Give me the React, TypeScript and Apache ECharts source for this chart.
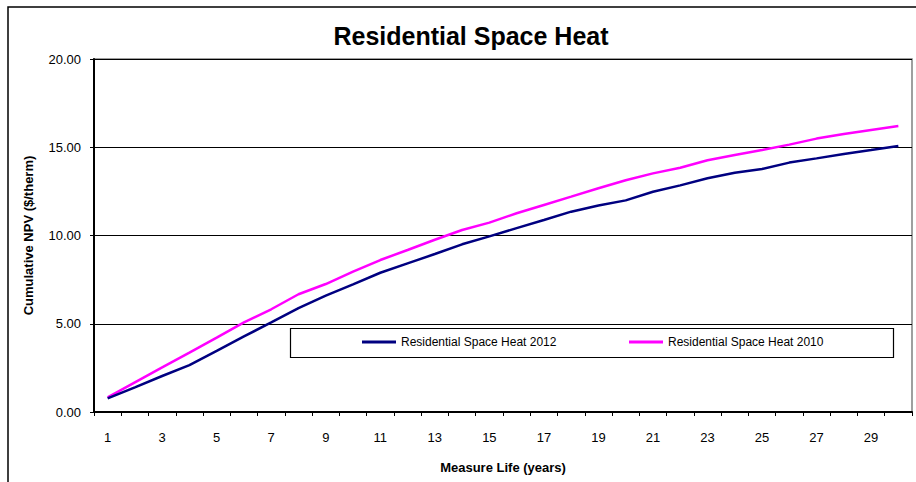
import React, { useEffect, useRef } from "react";
import * as echarts from "echarts";

const years: string[] = [
  "1","2","3","4","5","6","7","8","9","10","11","12","13","14","15",
  "16","17","18","19","20","21","22","23","24","25","26","27","28","29","30",
];
const heat2012: number[] = [
  0.77, 1.4, 2.04, 2.66, 3.46, 4.28, 5.08, 5.89, 6.59, 7.23, 7.89, 8.42, 8.95, 9.5, 9.95,
  10.42, 10.88, 11.35, 11.7, 11.99, 12.48, 12.84, 13.24, 13.56, 13.77, 14.13, 14.37, 14.62, 14.84, 15.07,
];
const heat2010: number[] = [
  0.83, 1.68, 2.53, 3.36, 4.21, 5.08, 5.82, 6.67, 7.25, 7.95, 8.61, 9.18, 9.76, 10.31, 10.73,
  11.26, 11.73, 12.2, 12.68, 13.13, 13.52, 13.84, 14.26, 14.56, 14.84, 15.15, 15.49, 15.75, 15.98, 16.2,
];
const seriesNames: string[] = ["Residential Space Heat 2012", "Residential Space Heat 2010"];
const titleText = "Residential Space Heat";
const xName = "Measure Life (years)";
const yName = "Cumulative NPV ($/therm)";

const FONT = "'Liberation Sans', Arial, sans-serif";

export default function App() {
  const ref = useRef<HTMLDivElement>(null);
  useEffect(() => {
    if (!ref.current) return;
    const chart = echarts.init(ref.current, null, { renderer: "svg" });
    chart.setOption({
      animation: false,
      backgroundColor: "#ffffff",
      title: {
        text: titleText,
        left: 466,
        top: 18,
        textAlign: "center",
        textStyle: { fontFamily: FONT, fontSize: 25, fontWeight: "bold", color: "#000" },
      },
      graphic: [
        {
          type: "polyline",
          shape: { points: [[8, 482], [8, 7], [916, 7]] },
          style: { stroke: "#000", lineWidth: 1.5, fill: "none" },
          z: 10,
        },
        {
          type: "rect",
          shape: { x: 290.5, y: 328.5, width: 603, height: 29 },
          style: { stroke: "#000", lineWidth: 1.2, fill: "#fff" },
          z: 3,
        },
      ],
      legend: [
        {
          data: [seriesNames[0]],
          left: 362,
          top: 336,
          icon: "rect",
          itemWidth: 34,
          itemHeight: 3,
          padding: 0,
          z: 5,
          textStyle: { fontFamily: FONT, fontSize: 12, color: "#000" },
        },
        {
          data: [seriesNames[1]],
          left: 629,
          top: 336,
          icon: "rect",
          itemWidth: 34,
          itemHeight: 3,
          padding: 0,
          z: 5,
          textStyle: { fontFamily: FONT, fontSize: 12, color: "#000" },
        },
      ],
      grid: {
        left: 94,
        top: 59,
        right: 4,
        bottom: 70,
        show: true,
        borderColor: "#808080",
        borderWidth: 1.5,
        backgroundColor: "transparent",
      },
      xAxis: {
        type: "category",
        data: years,
        boundaryGap: true,
        name: xName,
        nameLocation: "middle",
        nameGap: 49,
        nameTextStyle: { fontFamily: FONT, fontSize: 13, fontWeight: "bold", color: "#000" },
        axisLine: { lineStyle: { color: "#000", width: 2 } },
        axisTick: { show: true, interval: 0, length: 4, lineStyle: { color: "#000", width: 1 } },
        axisLabel: { interval: 1, margin: 19, fontFamily: FONT, fontSize: 13, color: "#000" },
        splitLine: { show: false },
      },
      yAxis: {
        type: "value",
        min: 0,
        max: 20,
        interval: 5,
        name: yName,
        nameLocation: "middle",
        nameGap: 59,
        nameTextStyle: { fontFamily: FONT, fontSize: 13, fontWeight: "bold", color: "#000" },
        axisLine: { show: true, lineStyle: { color: "#000", width: 2 } },
        axisTick: { show: true, length: 4, lineStyle: { color: "#000", width: 1 } },
        axisLabel: {
          margin: 13,
          fontFamily: FONT,
          fontSize: 13,
          color: "#000",
          formatter: (v: number) => v.toFixed(2),
        },
        splitLine: { show: true, lineStyle: { color: "#000", width: 1 } },
      },
      series: [
        {
          name: seriesNames[0],
          type: "line",
          data: heat2012,
          symbol: "none",
          lineStyle: { color: "#000080", width: 2.5 },
          itemStyle: { color: "#000080" },
          z: 4,
        },
        {
          name: seriesNames[1],
          type: "line",
          data: heat2010,
          symbol: "none",
          lineStyle: { color: "#ff00ff", width: 2.5 },
          itemStyle: { color: "#ff00ff" },
          z: 3,
        },
      ],
    });
    return () => chart.dispose();
  }, []);
  return (
    <div
      ref={ref}
      style={{ position: "absolute", left: 0, top: 0, width: 916, height: 482 }}
    />
  );
}
